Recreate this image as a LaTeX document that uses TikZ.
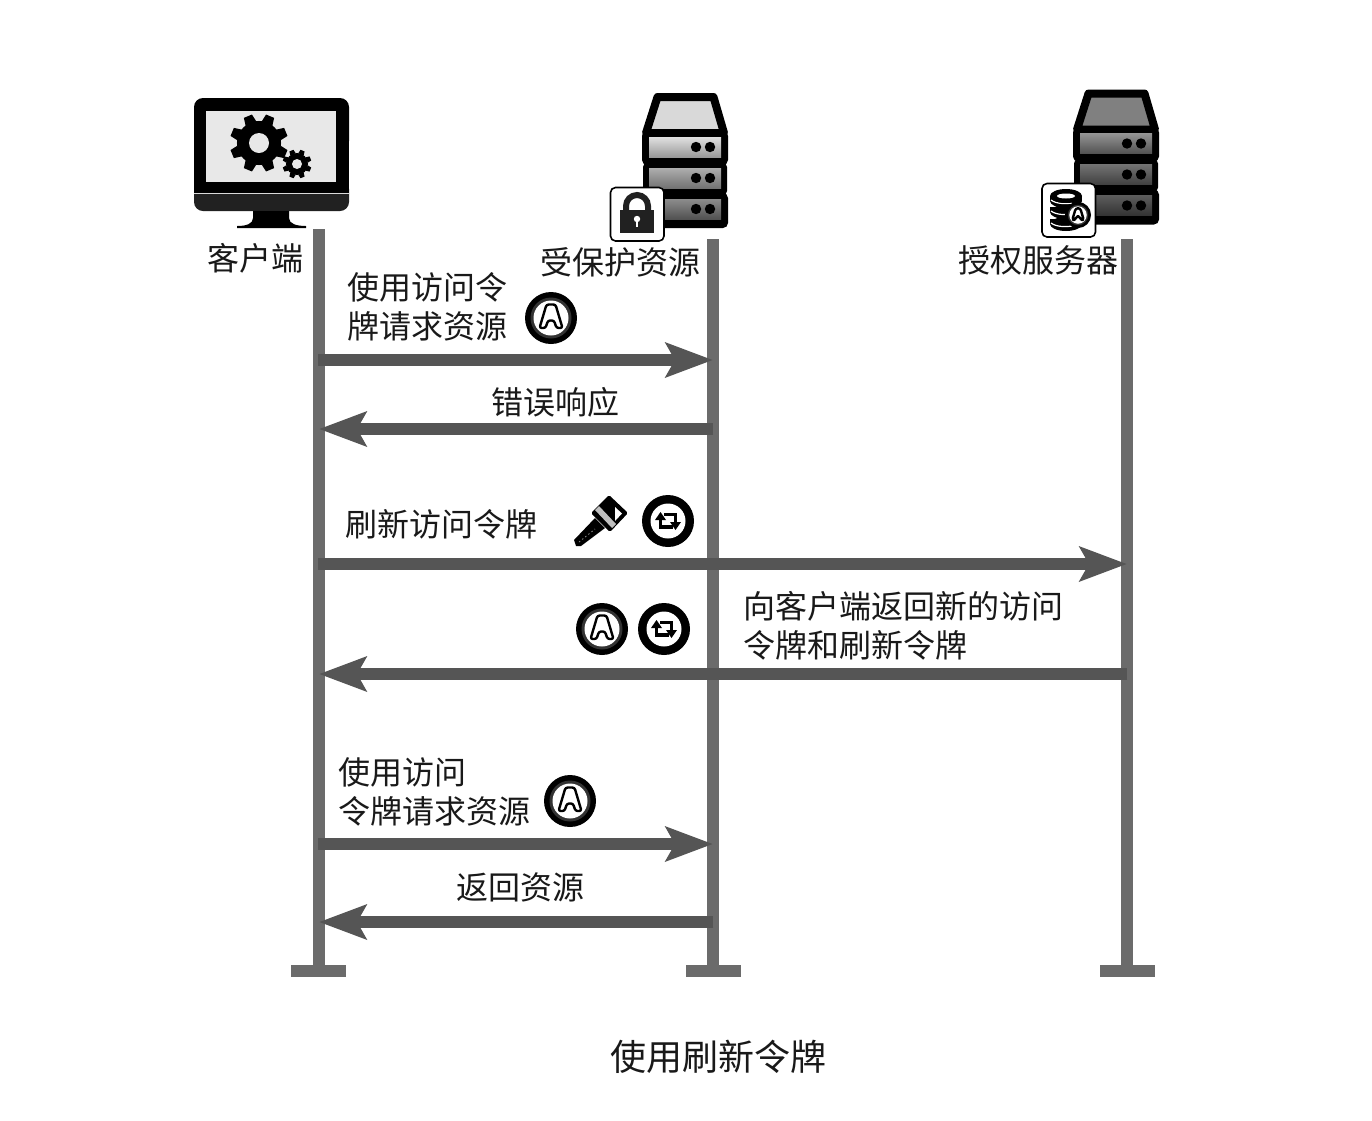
\documentclass[tikz,border=0pt]{standalone}
\usepackage{fontspec}
\setmainfont{Noto Sans CJK SC}
\usetikzlibrary{arrows.meta}
\definecolor{lifegray}{HTML}{6B6B6B}
\definecolor{msggray}{HTML}{555555}
\tikzset{
  lifeline/.style={line width=12pt,draw=lifegray},
  footbar/.style={fill=lifegray,draw=none},
  msg/.style={line width=12pt,draw=msggray,-{Stealth[length=47pt,width=34pt,inset=9pt,fill=msggray]}},
  lbl/.style={inner sep=0pt,outer sep=0pt,font=\fontsize{32}{38.5}\selectfont,text=black!90,align=left},
  pics/gear/.style args={#1/#2/#3}{code={
    \foreach \a in {0,45,...,315}{
      \fill[black,rotate=\a+22.5] (-#1*0.2,-#1*0.72) -- (-#1*0.15,-#1) -- (#1*0.15,-#1) -- (#1*0.2,-#1*0.72) -- cycle;
    }
    \fill[black] (0,0) circle (#1*0.76);
    \fill[#3] (0,0) circle (#2);
  }},
  pics/atoken/.style={code={
    \fill[black] (0,0) circle (26);
    \fill[white!20!black] (0,0) circle (20.5);
    \fill[white] (0,0) circle (17.5);
    \draw[black,line width=2.4pt,fill=white,rounded corners=2.2pt,line join=round]
      (-11.5,10) -- (-4.5,-13.5) -- (4.5,-13.5) -- (11.5,10) -- (5.5,10) -- (3,2.5) -- (-3,2.5) -- (-5.5,10) -- cycle;
  }},
  pics/rtoken/.style={code={
    \fill[black] (0,0) circle (26);
    \fill[white] (0,0) circle (17.5);
    \draw[black,line width=3.4pt] (-7.5,-2) -- (-7.5,6) -- (5,6);
    \draw[black,line width=3.4pt] (-4,-6.5) -- (7.5,-6.5) -- (7.5,2);
    \fill[black] (-13,-1) -- (-7.5,-9) -- (-2,-1) -- cycle;
    \fill[black] (13,1) -- (7.5,9) -- (2,1) -- cycle;
  }},
  pics/serverbox/.style args={#1/#2/#3/#4/#5/#6/#7}{code={
    \draw[black,line width=8pt,line join=round,fill=#1]
      (15.5,5) -- (71.5,5) -- (82,41) -- (4,41) -- cycle;
    \fill[black,rounded corners=5pt] (0,39) rectangle (86,73);
    \fill[black,rounded corners=5pt] (1,70) rectangle (85,104);
    \fill[black,rounded corners=5pt] (1,101) rectangle (86,136);
    \shade[top color=#2,bottom color=#3] (7,45) rectangle (79,65);
    \shade[top color=#4,bottom color=#5] (7,76) rectangle (79,96);
    \shade[top color=#6,bottom color=#7] (7,107) rectangle (79,127);
    \foreach \yy in {55,86,117}{
      \fill[black] (54,\yy) circle (5.2);
      \fill[black] (68,\yy) circle (5.2);
    }
  }},
}
\begin{document}
\begin{tikzpicture}[x=1pt,y=-1pt]
\useasboundingbox (0,0) rectangle (1372,1120);
\fill[white] (0,0) rectangle (1372,1120);

% lifeline end points
\coordinate (cTop) at (319,229);
\coordinate (cBot) at (319,970);
\coordinate (pTop) at (713,239);
\coordinate (pBot) at (713,970);
\coordinate (aTop) at (1127,239);
\coordinate (aBot) at (1127,970);

\draw[lifeline] (cTop) -- (cBot);
\draw[lifeline] (pTop) -- (pBot);
\draw[lifeline] (aTop) -- (aBot);
\fill[footbar] (291,965) rectangle (346,977);
\fill[footbar] (686,965) rectangle (741,977);
\fill[footbar] (1100,965) rectangle (1155,977);

% messages
\coordinate (m1a) at (318,360); \coordinate (m1b) at (713,360);
\coordinate (m2a) at (713,429); \coordinate (m2b) at (319,429);
\coordinate (m3a) at (318,564); \coordinate (m3b) at (1127,564);
\coordinate (m4a) at (1127,674); \coordinate (m4b) at (319,674);
\coordinate (m5a) at (318,844); \coordinate (m5b) at (713,844);
\coordinate (m6a) at (713,922); \coordinate (m6b) at (319,922);
\draw[msg] (m1a) -- (m1b);
\draw[msg] (m2a) -- (m2b);
\draw[msg] (m3a) -- (m3b);
\draw[msg] (m4a) -- (m4b);
\draw[msg] (m5a) -- (m5b);
\draw[msg] (m6a) -- (m6b);

% client monitor
\fill[black,rounded corners=9pt] (194,98) rectangle (349,150);
\fill[black] (194,120) rectangle (349,193);
\fill[black!87,rounded corners=9pt] (194,180) rectangle (349,211);
\fill[black] (194,175) rectangle (349,193);
\fill[white!85!black] (194,193) rectangle (349,194.2);
\fill[black!87] (194,194.2) rectangle (349,203);
\fill[white!91!black] (206,111) rectangle (336,182);
\fill[black] (253,211) -- (289,211) -- (289,218) .. controls (289,224) and (297,226) .. (306,226) -- (306,228) -- (237,228) -- (237,226) .. controls (246,226) and (253,224) .. (253,218) -- cycle;
\pic at (259,143) {gear={29/10/white!91!black}};
\pic at (297,164) {gear={14.5/5/white!91!black}};

% protected resource server
\pic at (642,92) {serverbox={white!85!black/white!88!black/white!60!black/white!68!black/white!45!black/white!55!black/white!32!black}};
% lock badge
\draw[black,line width=1.6pt,fill=white,rounded corners=5pt] (610.5,187.5) rectangle (664,241);
\draw[black!87,line width=6pt] (626,212) -- (626,206) arc[start angle=180,end angle=360,radius=11] -- (648,212);
\fill[black!87] (620,210) rectangle (654,233);
\fill[white] (637,219) circle (3.2);
\fill[white] (635.6,219) rectangle (638.4,227);

% authorization server
\pic at (1073,88.5) {serverbox={white!50!black/white!58!black/white!32!black/white!45!black/white!25!black/white!36!black/white!20!black}};
% database badge
\draw[black,line width=1.6pt,fill=white,rounded corners=5pt] (1042,183.5) rectangle (1095.5,237);
\foreach \yy in {224,212,201}{
  \fill[black] (1050,\yy-5) rectangle (1082,\yy);
  \fill[black] (1066,\yy) ellipse (16 and 7);
  \draw[white,line width=1.2pt] (1051,\yy-1) .. controls (1056,\yy+3) and (1066,\yy+3) .. (1072,\yy+2);
}
\fill[black] (1066,196) ellipse (16 and 7);
\fill[white] (1066,196) ellipse (9 and 2.5);
\pic[scale=0.5] at (1078,215) {atoken};

% tokens
\pic at (551,318) {atoken};
\pic at (602,629) {atoken};
\pic at (570,801) {atoken};
\pic at (668,521) {rtoken};
\pic at (664,629) {rtoken};

% brush
\fill[black,line join=round] (574,540) -- (595,518) -- (605,528) -- (581,546) -- (576,546) -- cycle;
\draw[white!55!black,line width=0.8pt,dash pattern=on 1.5pt off 2.5pt] (579,542) -- (595,529);
\fill[black,rounded corners=1.5pt] (609,495) -- (628,513) -- (610,532) -- (591,513) -- cycle;
\fill[white!75!black] (595,510) -- (599,506) -- (616,524) -- (612,528) -- cycle;
\fill[white] (615,507) -- (622,513.5) -- (615,521) -- cycle;

% labels
\node[lbl,anchor=west] (lClient) at (207,258) {客户端};
\node[lbl,anchor=west] (lRes) at (540,262) {受保护资源};
\node[lbl,anchor=west] (lAuth) at (958,260) {授权服务器};
\node[lbl,anchor=west] (t1) at (347,307) {使用访问令\\牌请求资源};
\node[lbl,anchor=west] (t2) at (491,402) {错误响应};
\node[lbl,anchor=west] (t3) at (345,524) {刷新访问令牌};
\node[lbl,anchor=west] (t4) at (743,626) {向客户端返回新的访问\\令牌和刷新令牌};
\node[lbl,anchor=west] (t5) at (338,792) {使用访问\\令牌请求资源};
\node[lbl,anchor=west] (t6) at (456,887) {返回资源};
\node[lbl,anchor=west,font=\fontsize{36}{42}\selectfont] (cap) at (610,1057) {使用刷新令牌};
\end{tikzpicture}
\end{document}
